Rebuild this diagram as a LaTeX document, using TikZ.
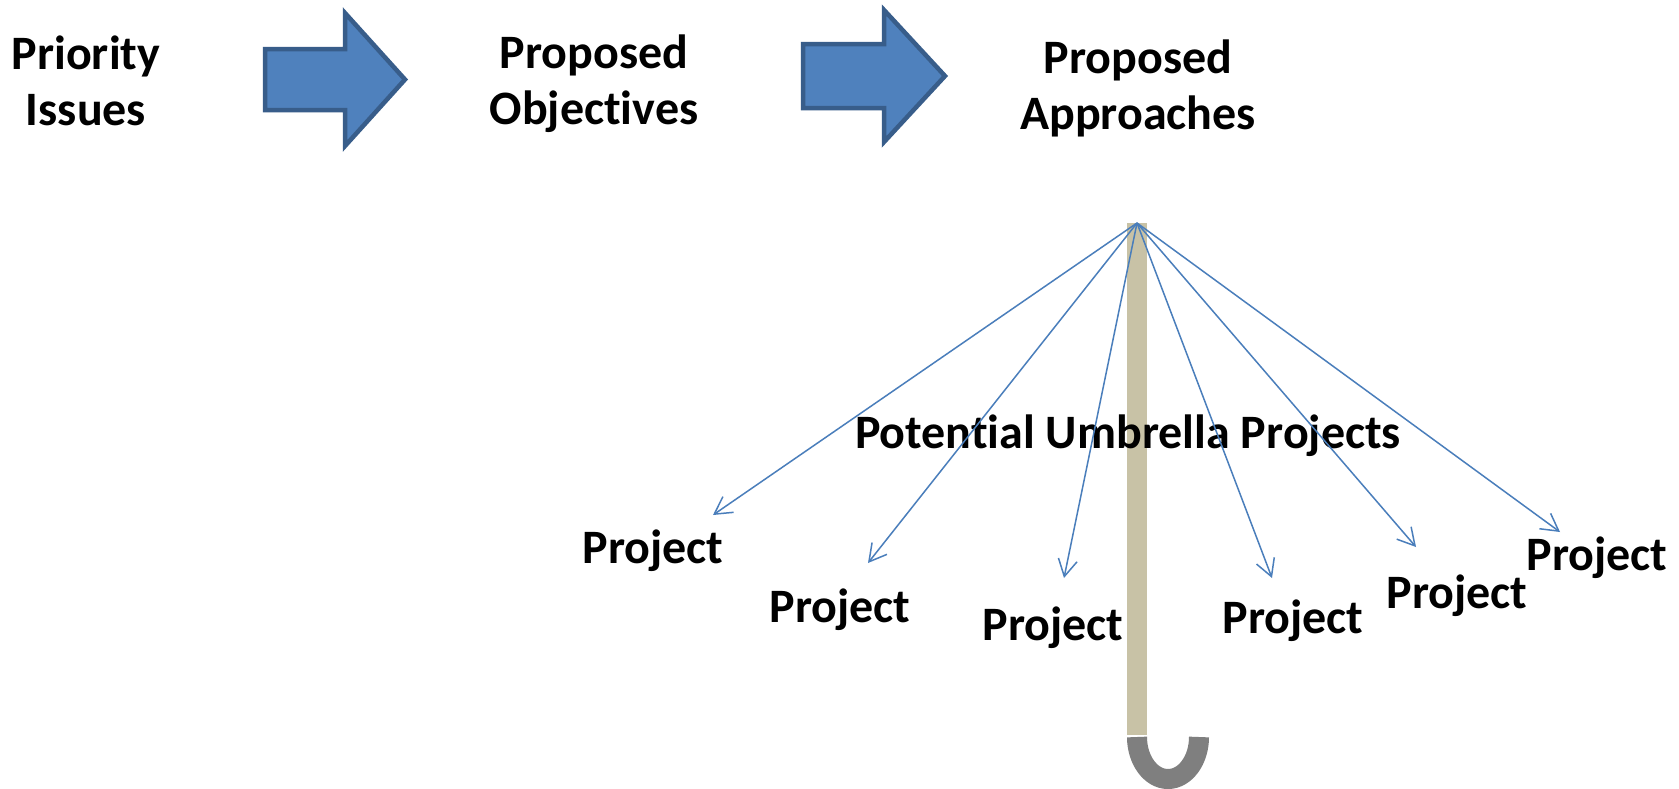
\documentclass[tikz,border=0pt]{standalone}
\usepackage{fontspec}
\setmainfont{Carlito}[Ligatures={NoCommon}]
\usetikzlibrary{arrows.meta}
\definecolor{arrowfill}{HTML}{4F81BD}
\definecolor{arrowedge}{HTML}{385D8A}
\definecolor{ribblue}{HTML}{4A7EBB}
\definecolor{poletan}{HTML}{C8C2A6}
\definecolor{handlegray}{HTML}{7F7F7F}
\tikzset{
  title/.style={font=\fontsize{48}{56}\selectfont\bfseries, align=center, inner sep=0pt, anchor=base},
  proj/.style={font=\fontsize{48}{56}\selectfont\bfseries, inner sep=0pt, anchor=base},
  blockarrow/.style={fill=arrowfill, draw=arrowedge, line width=4.5pt, line join=miter},
  rib/.style={draw=ribblue, line width=1.5pt, -{Straight Barb[length=17pt,width=19pt,line width=1.5pt]}},
}
\begin{document}
\begin{tikzpicture}[x=1pt,y=-1pt]
\useasboundingbox (0,0) rectangle (1679,788);
\fill[white] (0,0) rectangle (1679,788);

% block arrows
\draw[blockarrow] (265,49) -- (345,49) -- (345,13) -- (405,79.5) -- (345,146) -- (345,110) -- (265,110) -- cycle;
\draw[blockarrow] (803,44) -- (884,44) -- (884,10) -- (945,76) -- (884,142) -- (884,108) -- (803,108) -- cycle;

% titles (anchor = baseline of last line)
\node[title] (pi) at (86,125) {Priority\\Issues};
\node[title] (po) at (594,124) {Proposed\\Objectives};
\node[title] (pa) at (1138,129) {Proposed\\Approaches};

% umbrella pole and handle
\fill[poletan] (1127,223) rectangle (1147,735);
\draw[handlegray, line width=20pt] (1137,737) arc[start angle=180, end angle=0, x radius=31, y radius=42];

\node[proj] (pu) at (1128,448) {Potential Umbrella Projects};

% project labels
\node[proj] (p1) at (653,563) {Project};
\node[proj] (p2) at (840,622) {Project};
\node[proj] (p3) at (1053,640) {Project};
\node[proj] (p4) at (1293,633) {Project};
\node[proj] (p5) at (1457,608) {Project};
\node[proj] (p6) at (1597,570) {Project};

% ribs
\coordinate (apex) at (1137,223);
\coordinate (t1) at (713,515);
\coordinate (t2) at (868,563);
\coordinate (t3) at (1064,578);
\coordinate (t4) at (1272,578);
\coordinate (t5) at (1416,547);
\coordinate (t6) at (1560,532);
\foreach \t in {t1,t2,t3,t4,t5,t6} \draw[rib] (apex) -- (\t);
\end{tikzpicture}
\end{document}
